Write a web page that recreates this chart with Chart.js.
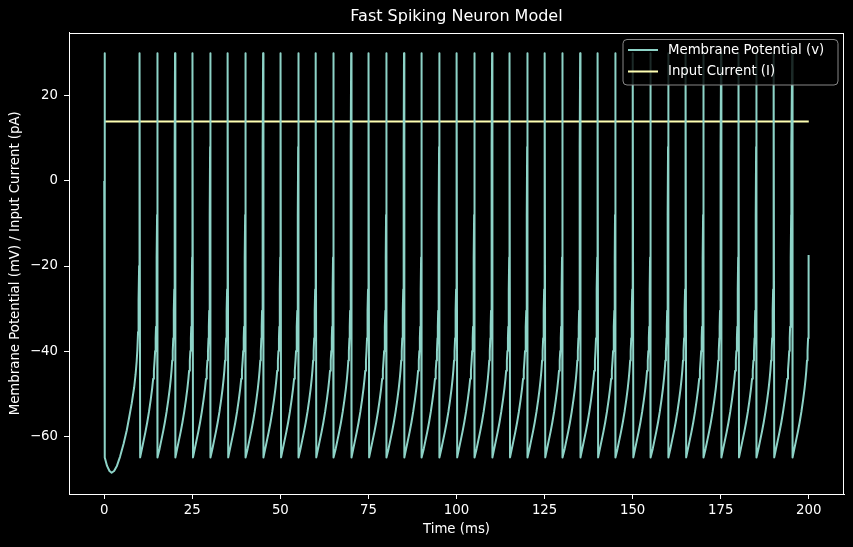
<!DOCTYPE html>
<html><head><meta charset="utf-8">
<script src="https://cdn.jsdelivr.net/npm/chart.js@4.4.1/dist/chart.umd.min.js"></script>
<style>html,body{margin:0;padding:0;background:#000;}canvas{display:block}</style>
</head><body>
<canvas id="c" width="853" height="547"></canvas>
<script>
const chartTitle = 'Fast Spiking Neuron Model';
const xLabel = 'Time (ms)';
const yLabel = 'Membrane Potential (mV) / Input Current (pA)';
const seriesNames = ['Membrane Potential (v)', 'Input Current (I)'];
const seriesColors = ['#8dd3c7', '#feffb3'];
const xTicks = [0, 25, 50, 75, 100, 125, 150, 175, 200];
const yTicks = [-60, -40, -20, 0, 20];

// first interval (initial spike, hyperpolarising dip, first regular spike)
const firstTime = [0, 0.1, 0.2, 0.8, 1.5, 2.1, 2.8, 3.6, 4.5, 5.5, 6.4, 7.1, 7.8, 8.5, 8.9, 9.2, 9.4, 9.6, 9.7, 9.8, 9.9, 9.95, 10.0, 10.05];
const firstV    = [0, 30, -65, -67, -68.2, -68.6, -68.2, -67, -64.8, -61.8, -58.6, -55.5, -52.3, -48.5, -45.5, -42.5, -39.8, -35.5, -32.5, -28, -20, -12, 0, 12];

// spike peak times (ms)
const spikeTimes = [10.1, 15.1, 20.1, 25.1, 30.1, 35.1, 40.1, 45.1, 50.1, 55.1, 60.1, 65.1, 70.1, 75.1, 80.1, 85.1, 90.1, 95.1, 100.1,
  105.1, 110.1, 115.1, 120.1, 125.1, 130.1, 135.1, 140.1, 145.1, 150.1, 155.1, 160.1, 165.1, 170.1, 175.1, 180.1, 185.1, 190.1, 195.3];
const spikePeak = 30;

// shape of one inter-spike interval: time after a spike peak (ms) and membrane potential (mV)
const isiOffset = [0.1, 0.6, 1.1, 1.6, 2.1, 2.6, 3.1, 3.5, 3.8, 4.0, 4.2, 4.35, 4.5, 4.6, 4.7, 4.78, 4.85, 4.9, 4.95];
const isiV      = [-65, -63.0, -61.0, -59.0, -56.8, -54.3, -51.4, -48.8, -46.5, -44.6, -42.2, -40.0, -37.0, -34.3, -30.5, -25.5, -18, -8, 8];

const endTime = 200;
const endV = -17.4;

const inputTime = [0, 200];
const inputI = [14, 14];

// build point list
const vPoints = firstTime.map((t, i) => ({x: t, y: firstV[i]}));
spikeTimes.forEach((T, k) => {
  vPoints.push({x: T, y: spikePeak});
  const next = spikeTimes[k + 1];
  const limit = next !== undefined ? next : endTime;
  isiOffset.forEach((o, j) => {
    const t = +(T + o).toFixed(3);
    if (t < limit && (next !== undefined || isiV[j] < endV)) vPoints.push({x: t, y: isiV[j]});
  });
});
vPoints.push({x: endTime, y: endV});
const iPoints = inputTime.map((t, i) => ({x: t, y: inputI[i]}));

const FONT = 'DejaVu Sans';
const fmt = v => (v < 0 ? '\u2212' + Math.abs(v) : String(v));

const decor = {
  id: 'decor',
  beforeDraw(chart) {
    const c = chart.ctx;
    c.save(); c.fillStyle = '#000'; c.fillRect(0, 0, chart.width, chart.height); c.restore();
  },
  afterDatasetsDraw(chart) {
    const c = chart.ctx, a = chart.chartArea;
    c.save();
    c.strokeStyle = '#fff'; c.lineWidth = 1;
    c.strokeRect(Math.round(a.left) + 0.5, Math.round(a.top) + 0.5, Math.round(a.right - a.left) - 1, Math.round(a.bottom - a.top) - 1);
    c.restore();
  },
  afterDraw(chart) {
    const c = chart.ctx, a = chart.chartArea;
    const cx = (a.left + a.right) / 2;
    c.save();
    c.fillStyle = '#fff';
    c.textAlign = 'center'; c.textBaseline = 'middle';
    c.font = '16px "' + FONT + '"';
    c.fillText(chartTitle, cx, 17);
    c.font = '13.3px "' + FONT + '"';
    c.fillText(xLabel, cx, 530);
    c.save();
    c.translate(16, (a.top + a.bottom) / 2);
    c.rotate(-Math.PI / 2);
    c.fillText(yLabel, 0, 0);
    c.restore();

    // legend
    const bx = 623, by = 39.5, bw = 215, bh = 45.5, r = 4;
    c.beginPath();
    c.moveTo(bx + r, by);
    c.lineTo(bx + bw - r, by); c.quadraticCurveTo(bx + bw, by, bx + bw, by + r);
    c.lineTo(bx + bw, by + bh - r); c.quadraticCurveTo(bx + bw, by + bh, bx + bw - r, by + bh);
    c.lineTo(bx + r, by + bh); c.quadraticCurveTo(bx, by + bh, bx, by + bh - r);
    c.lineTo(bx, by + r); c.quadraticCurveTo(bx, by, bx + r, by);
    c.closePath();
    c.fillStyle = 'rgba(0,0,0,0.8)'; c.fill();
    c.strokeStyle = 'rgba(150,150,150,0.9)'; c.lineWidth = 1; c.stroke();
    const rows = [50, 71.5];
    chart.data.datasets.forEach((ds, i) => {
      c.strokeStyle = ds.borderColor; c.lineWidth = 2;
      c.beginPath(); c.moveTo(628, rows[i]); c.lineTo(658, rows[i]); c.stroke();
      c.fillStyle = '#fff'; c.textAlign = 'left'; c.textBaseline = 'middle';
      c.font = '13.3px "' + FONT + '"';
      c.fillText(ds.label, 668, rows[i] + 0.5);
    });
    c.restore();
  }
};

const axisCommon = {
  type: 'linear',
  grid: {display: true, drawOnChartArea: false, drawTicks: true, tickLength: 5, color: '#fff', lineWidth: 1},
  border: {display: true, color: '#fff', width: 1},
};

new Chart(document.getElementById('c'), {
  type: 'line',
  data: {
    datasets: [
      {label: seriesNames[0], data: vPoints, borderColor: seriesColors[0], borderWidth: 2, pointRadius: 0, tension: 0, fill: false, borderJoinStyle: 'round'},
      {label: seriesNames[1], data: iPoints, borderColor: seriesColors[1], borderWidth: 2, pointRadius: 0, tension: 0, fill: false}
    ]
  },
  options: {
    responsive: false, animation: false, devicePixelRatio: 1,
    parsing: false, normalized: true,
    layout: {padding: {top: 32.5, right: 9, left: 0, bottom: 0}},
    plugins: {legend: {display: false}, title: {display: false}, tooltip: {enabled: false}},
    scales: {
      x: Object.assign({}, axisCommon, {
        position: 'bottom', min: -10, max: 210,
        afterBuildTicks: s => { s.ticks = xTicks.map(v => ({value: v})); },
        afterFit: s => { s.height = 53; },
        ticks: {color: '#fff', font: {family: FONT, size: 13.3}, padding: 4, maxRotation: 0, autoSkip: false, callback: v => fmt(v)}
      }),
      y: Object.assign({}, axisCommon, {
        position: 'left', min: -73.6, max: 34.9,
        afterBuildTicks: s => { s.ticks = yTicks.map(v => ({value: v})); },
        afterFit: s => { s.width = 69; },
        ticks: {color: '#fff', font: {family: FONT, size: 13.3}, padding: 6, autoSkip: false, callback: v => fmt(v)}
      })
    }
  },
  plugins: [decor]
});
</script>
</body></html>
